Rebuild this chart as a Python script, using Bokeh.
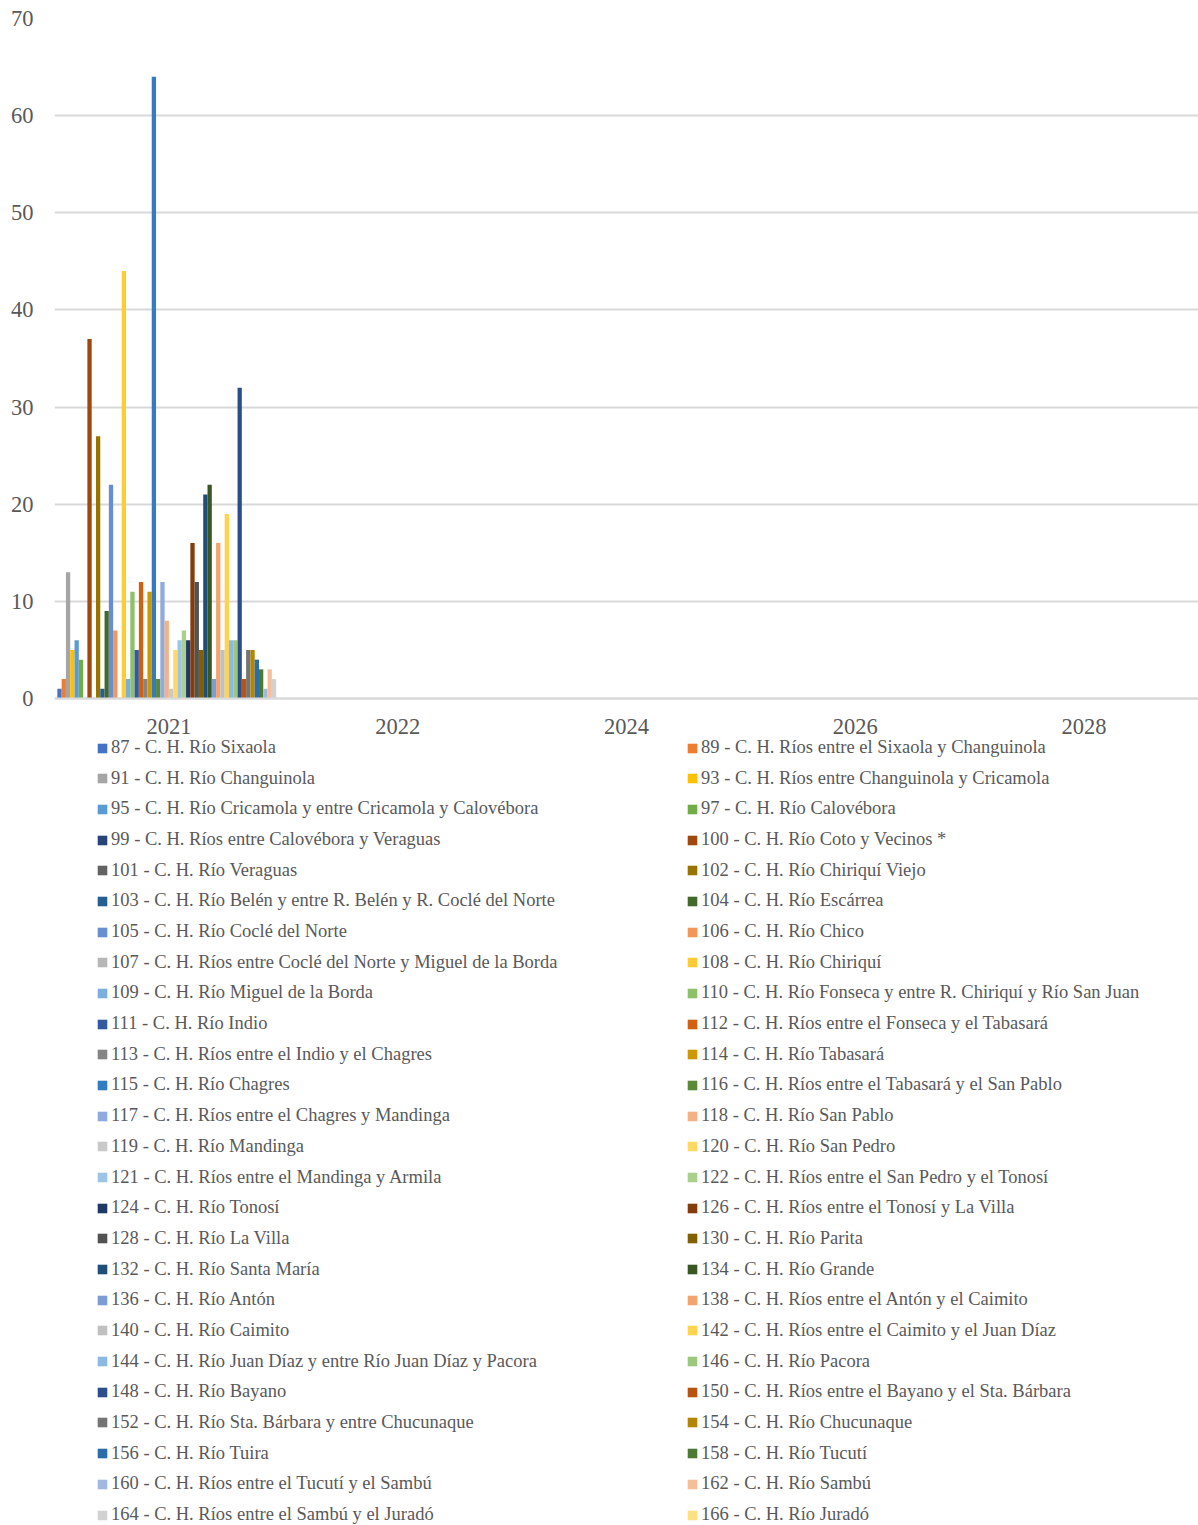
import colorsys
from bokeh.plotting import figure
from bokeh.models import ColumnDataSource, FactorRange, Legend, LegendItem, FixedTicker, Range1d
from bokeh.transform import dodge
from bokeh.embed import file_html
from bokeh.resources import INLINE

years = ["2021", "2022", "2024", "2026", "2028"]

series_names = [
    "87 - C. H. Río Sixaola",
    "89 - C. H. Ríos entre el Sixaola y Changuinola",
    "91 - C. H. Río Changuinola",
    "93 - C. H. Ríos entre Changuinola y Cricamola",
    "95 - C. H. Río Cricamola y entre Cricamola y Calovébora",
    "97 - C. H. Río Calovébora",
    "99 - C. H. Ríos entre Calovébora y Veraguas",
    "100 - C. H. Río Coto y Vecinos *",
    "101 - C. H. Río Veraguas",
    "102 - C. H. Río Chiriquí Viejo",
    "103 - C. H. Río Belén y entre R. Belén y R. Coclé del Norte",
    "104 - C. H. Río Escárrea",
    "105 - C. H. Río Coclé del Norte",
    "106 - C. H. Río Chico",
    "107 - C. H. Ríos entre Coclé del Norte y Miguel de la Borda",
    "108 - C. H. Río Chiriquí",
    "109 - C. H. Río Miguel de la Borda",
    "110 - C. H. Río Fonseca y entre R. Chiriquí y Río San Juan",
    "111 - C. H. Río Indio",
    "112 - C. H. Ríos entre el Fonseca y el Tabasará",
    "113 - C. H. Ríos entre el Indio y el Chagres",
    "114 - C. H. Río Tabasará",
    "115 - C. H. Río Chagres",
    "116 - C. H. Ríos entre el Tabasará y el San Pablo",
    "117 - C. H. Ríos entre el Chagres y Mandinga",
    "118 - C. H. Río San Pablo",
    "119 - C. H. Río Mandinga",
    "120 - C. H. Río San Pedro",
    "121 - C. H. Ríos entre el Mandinga y Armila",
    "122 - C. H. Ríos entre el San Pedro y el Tonosí",
    "124 - C. H. Río Tonosí",
    "126 - C. H. Ríos entre el Tonosí y La Villa",
    "128 - C. H. Río La Villa",
    "130 - C. H. Río Parita",
    "132 - C. H. Río Santa María",
    "134 - C. H. Río Grande",
    "136 - C. H. Río Antón",
    "138 - C. H. Ríos entre el Antón y el Caimito",
    "140 - C. H. Río Caimito",
    "142 - C. H. Ríos entre el Caimito y el Juan Díaz",
    "144 - C. H. Río Juan Díaz y entre Río Juan Díaz y Pacora",
    "146 - C. H. Río Pacora",
    "148 - C. H. Río Bayano",
    "150 - C. H. Ríos entre el Bayano y el Sta. Bárbara",
    "152 - C. H. Río Sta. Bárbara y entre Chucunaque",
    "154 - C. H. Río Chucunaque",
    "156 - C. H. Río Tuira",
    "158 - C. H. Río Tucutí",
    "160 - C. H. Ríos entre el Tucutí y el Sambú",
    "162 - C. H. Río Sambú",
    "164 - C. H. Ríos entre el Sambú y el Juradó",
    "166 - C. H. Río Juradó",
]

values_2021 = [
    1, 2, 13, 5, 6, 4, 0, 37, 0, 27,
    1, 9, 22, 7, 0, 44, 2, 11, 5, 12,
    2, 11, 64, 2, 12, 8, 1, 5, 6, 7,
    6, 16, 12, 5, 21, 22, 2, 16, 5, 19,
    6, 6, 32, 2, 5, 5, 4, 3, 1, 3,
    2, 0,
]

y_ticks = [0, 10, 20, 30, 40, 50, 60, 70]

# Office palette with luminance variations
accents = ["#4472C4", "#ED7D31", "#A5A5A5", "#FFC000", "#5B9BD5", "#70AD47"]
variations = [(1, 0), (0.6, 0), (0.8, 0.2), (0.8, 0), (0.6, 0.4),
              (0.5, 0), (0.7, 0.3), (0.7, 0), (0.5, 0.5)]


def vary(hexc, mod, off):
    r, g, b = (int(hexc[i:i + 2], 16) / 255 for i in (1, 3, 5))
    h, l, s = colorsys.rgb_to_hls(r, g, b)
    l = min(1.0, l * mod + off)
    r, g, b = colorsys.hls_to_rgb(h, l, s)
    return "#%02X%02X%02X" % (round(r * 255), round(g * 255), round(b * 255))


colors = []
for i in range(len(series_names)):
    m, o = variations[(i // 6) % len(variations)]
    colors.append(vary(accents[i % 6], m, o))

FONT = "Liberation Serif"
TXT = "#595959"
GRID = "#D9D9D9"

# The plot frame spans down to the bottom of the page so the legend lies inside it;
# y = 0 sits 680 px below the frame top (value axis 0..70 over 680 px).
H, TOP, PLOT_H = 1525, 18, 680
y_start = -70 * (H - TOP - PLOT_H) / PLOT_H

p = figure(
    width=1198, height=H,
    x_range=FactorRange(*years, range_padding=0),
    y_range=Range1d(y_start, 70),
    output_backend="svg", toolbar_location=None,
    min_border_left=54, min_border_right=0, min_border_top=TOP, min_border_bottom=0,
)
p.outline_line_color = None
p.xgrid.grid_line_color = None
p.ygrid.grid_line_color = GRID
p.ygrid.grid_line_width = 2
p.ygrid.ticker = FixedTicker(ticks=y_ticks)
p.yaxis.ticker = FixedTicker(ticks=y_ticks)
p.yaxis.axis_line_color = None
for ax in (p.xaxis[0], p.yaxis[0]):
    ax.major_tick_line_color = None
    ax.minor_tick_line_color = None
    ax.major_tick_out = 0
    ax.major_tick_in = 0
    ax.minor_tick_out = 0
    ax.minor_tick_in = 0
    ax.major_label_text_font = FONT
    ax.major_label_text_font_size = "22.5px"
    ax.major_label_text_color = TXT
p.yaxis.major_label_standoff = 21
p.xaxis.fixed_location = 0
p.xaxis.axis_line_color = GRID
p.xaxis.axis_line_width = 2
p.xaxis.major_label_standoff = 20

data = {"year": [years[0]]}
for i, v in enumerate(values_2021):
    data["s%d" % i] = [v]
source = ColumnDataSource(data)

n = len(series_names)
group_span = 0.975
bw = group_span / n
items = []
for i, name in enumerate(series_names):
    off = -group_span / 2 + bw * (i + 0.5)
    r = p.vbar(x=dodge("year", off, range=p.x_range), top="s%d" % i, bottom=0, width=bw,
               source=source, fill_color=colors[i], line_color=None)
    items.append(LegendItem(label=name, renderers=[r]))

common = dict(
    orientation="vertical", border_line_color=None, background_fill_alpha=0,
    padding=0, margin=0, glyph_width=12, glyph_height=12, label_standoff=3,
    spacing=0, label_height=20,
    label_text_font=FONT, label_text_font_size="18.5px", label_text_color=TXT,
)
# Two-column legend, read row by row; one legend entry per row for even spacing.
ROW0, PITCH = 746.0, 30.68
n_rows = (n + 1) // 2
for k in range(n_rows):
    centre = ROW0 + PITCH * k
    vy = H - (centre - 9 + 21)
    for col, vx in ((0, 42), (1, 632)):
        idx = 2 * k + col
        if idx < n:
            p.add_layout(Legend(items=[items[idx]], location=(vx, vy), **common), "center")

open("out.html", "w").write(file_html(p, INLINE))
